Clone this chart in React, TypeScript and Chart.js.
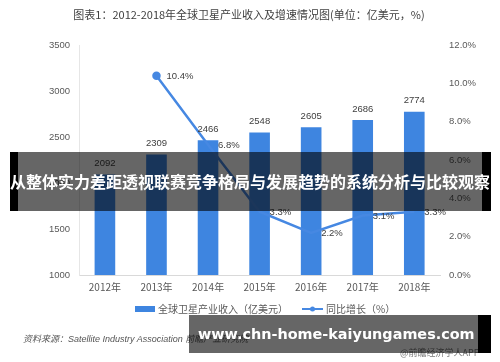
import React, { useEffect, useRef } from "react";
import { Chart, registerables } from "chart.js";

Chart.register(...registerables);

const categories = ["2012年", "2013年", "2014年", "2015年", "2016年", "2017年", "2018年"];
const revenue = [2092, 2309, 2466, 2548, 2605, 2686, 2774];
const growth: (number | null)[] = [null, 10.4, 6.8, 3.3, 2.2, 3.1, 3.3];
const growthPointRadius = [0, 3, 0, 0, 0, 0, 0];
const revenueLabel = "全球卫星产业收入（亿美元）";
const growthLabel = "同比增长（%）";
const titleText = "图表1：2012-2018年全球卫星产业收入及增速情况图(单位：亿美元，%)";

const BLUE = "rgb(62,133,224)";
const LINE_BLUE = "rgb(70,136,226)";
const NUM_FONT = "9.5px 'Liberation Sans', Arial, sans-serif";
const CJK_FONT = "'Noto Sans CJK SC', sans-serif";

const labelPlugin = {
  id: "customLabels",
  afterDatasetsDraw(chart: any) {
    const ctx = chart.ctx;
    ctx.save();
    ctx.font = NUM_FONT;
    ctx.fillStyle = "#404040";
    const barMeta = chart.getDatasetMeta(0);
    barMeta.data.forEach((el: any, i: number) => {
      ctx.textAlign = "center";
      ctx.textBaseline = "middle";
      ctx.fillText(String(revenue[i]), el.x, el.y - 11);
    });
    const lineMeta = chart.getDatasetMeta(1);
    lineMeta.data.forEach((el: any, i: number) => {
      const v = growth[i];
      if (v === null) return;
      ctx.textAlign = "left";
      ctx.textBaseline = "middle";
      ctx.fillText(v.toFixed(1) + "%", el.x + 10, el.y + 1);
    });
    ctx.restore();
  },
  afterDraw(chart: any) {
    const ctx = chart.ctx;
    ctx.save();
    // title
    ctx.font = "11px " + CJK_FONT;
    ctx.fillStyle = "#404040";
    ctx.textAlign = "center";
    ctx.textBaseline = "middle";
    ctx.fillText(titleText, 249, 15);
    // legend
    const ly = 309;
    ctx.fillStyle = BLUE;
    ctx.fillRect(135, ly - 3, 20, 6);
    ctx.font = "10px " + CJK_FONT;
    ctx.fillStyle = "#595959";
    ctx.textAlign = "left";
    ctx.textBaseline = "middle";
    ctx.fillText(revenueLabel, 158, ly);
    ctx.strokeStyle = LINE_BLUE;
    ctx.lineWidth = 2;
    ctx.beginPath();
    ctx.moveTo(302, ly);
    ctx.lineTo(323, ly);
    ctx.stroke();
    ctx.fillStyle = LINE_BLUE;
    ctx.beginPath();
    ctx.arc(312.5, ly, 2.5, 0, Math.PI * 2);
    ctx.fill();
    ctx.fillStyle = "#595959";
    ctx.fillText(growthLabel, 326, ly);
    ctx.restore();
  },
};

function ChartView() {
  const ref = useRef<HTMLCanvasElement | null>(null);
  useEffect(() => {
    if (!ref.current) return;
    const chart = new Chart(ref.current, {
      type: "bar",
      data: {
        labels: categories,
        datasets: [
          {
            type: "bar",
            label: revenueLabel,
            data: revenue,
            backgroundColor: BLUE,
            yAxisID: "y",
            barPercentage: 0.4,
            categoryPercentage: 1,
            order: 2,
          },
          {
            type: "line",
            label: growthLabel,
            data: growth,
            borderColor: LINE_BLUE,
            backgroundColor: LINE_BLUE,
            borderWidth: 2.5,
            pointRadius: growthPointRadius,
            pointHoverRadius: growthPointRadius,
            yAxisID: "y1",
            spanGaps: false,
            tension: 0,
            order: 1,
          } as any,
        ],
      },
      options: {
        responsive: false,
        animation: false,
        layout: { padding: { left: 40, right: 15, top: 45, bottom: 63 } },
        plugins: {
          legend: { display: false },
          tooltip: { enabled: false },
          title: { display: false },
        },
        scales: {
          x: {
            grid: { display: false, drawTicks: false },
            border: { display: true, color: "#d9d9d9", width: 1 },
            ticks: {
              color: "#595959",
              font: { size: 10, family: CJK_FONT },
              padding: 6,
            },
          },
          y: {
            position: "left",
            min: 1000,
            max: 3500,
            grid: { display: false, drawTicks: false },
            border: { display: true, color: "#e6e6e6", width: 1 },
            ticks: {
              stepSize: 500,
              color: "#595959",
              font: { size: 9.5, family: "'Liberation Sans', Arial, sans-serif" },
              padding: 9,
              callback: (v: any) => String(v),
            },
          },
          y1: {
            position: "right",
            min: 0,
            max: 12,
            grid: { display: false, drawTicks: false },
            border: { display: false },
            ticks: {
              stepSize: 2,
              color: "#595959",
              font: { size: 9.5, family: "'Liberation Sans', Arial, sans-serif" },
              padding: 9,
              callback: (v: any) => Number(v).toFixed(1) + "%",
            },
          },
        },
      },
      plugins: [labelPlugin],
    });
    return () => chart.destroy();
  }, []);
  return <canvas ref={ref} width={500} height={362} style={{ width: 500, height: 362, display: "block" }} />;
}

export default function App() {
  return (
    <div style={{ position: "fixed", left: 0, top: 0, width: 500, height: 362, background: "#fff", overflow: "hidden" }}>
      <ChartView />
      <div
        style={{
          position: "absolute",
          left: 23,
          top: 333,
          fontSize: 9,
          fontStyle: "italic",
          color: "#555",
          fontFamily: "'Liberation Sans', " + CJK_FONT,
          whiteSpace: "nowrap",
          lineHeight: "12px",
        }}
      >
        资料来源：Satellite Industry Association 前瞻产业研究院
      </div>
      <div
        style={{
          position: "absolute",
          left: 400,
          top: 347,
          fontSize: 9,
          color: "#777",
          fontFamily: CJK_FONT,
          whiteSpace: "nowrap",
          lineHeight: "12px",
        }}
      >
        @前瞻经济学人APP
      </div>
      <div style={{ position: "absolute", left: 10, top: 152, width: 8, height: 59, background: "#000" }} />
      <div style={{ position: "absolute", left: 18, top: 152, width: 464, height: 59, background: "rgba(0,0,0,0.6)" }} />
      <div style={{ position: "absolute", left: 482, top: 152, width: 9, height: 59, background: "#000" }} />
      <div
        style={{
          position: "absolute",
          left: 0,
          top: 152,
          width: 500,
          height: 59,
          lineHeight: "59px",
          textAlign: "center",
          color: "#fff",
          fontWeight: "bold",
          fontSize: 16,
          fontFamily: CJK_FONT,
          whiteSpace: "nowrap",
        }}
      >
        从整体实力差距透视联赛竞争格局与发展趋势的系统分析与比较观察
      </div>
      <div style={{ position: "absolute", left: 189, top: 315, width: 289, height: 38, background: "rgba(0,0,0,0.6)" }} />
      <div style={{ position: "absolute", left: 478, top: 315, width: 13, height: 38, background: "#000" }} />
      <div
        style={{
          position: "absolute",
          left: 198,
          top: 315,
          height: 38,
          lineHeight: "38px",
          color: "#fff",
          fontWeight: "bold",
          fontSize: 14.4,
          fontFamily: "'DejaVu Sans', sans-serif",
          whiteSpace: "nowrap",
        }}
      >
        www.chn-home-kaiyungames.com
      </div>
    </div>
  );
}
